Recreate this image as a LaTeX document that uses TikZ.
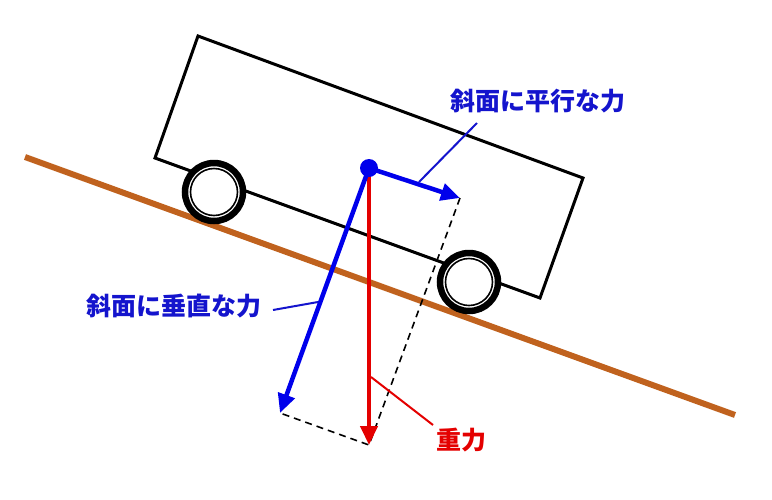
\documentclass[tikz,border=0pt]{standalone}
\usepackage{fontspec}
\newfontfamily\jpfont{Noto Sans CJK JP}
\usetikzlibrary{positioning}
\usetikzlibrary{arrows.meta}
\usetikzlibrary{calc}
\definecolor{slopebrown}{RGB}{192,98,30}
\definecolor{forceblue}{RGB}{0,0,235}
\definecolor{forcered}{RGB}{228,0,0}
\definecolor{labelblue}{RGB}{20,20,205}
\tikzset{
  force/.style={line width=4.5pt, -{Triangle[length=19pt,width=17pt]}},
  leader/.style={line width=2pt},
  forcelabel/.style={font=\jpfont\bfseries\fontsize{25}{30}\selectfont, inner sep=0pt},
  tyre/.style={draw=black, fill=white, line width=6.5pt}
}
\begin{document}
\begin{tikzpicture}[x=1pt,y=-1pt]
  \useasboundingbox (0,0) rectangle (772,499);
  % slope
  \coordinate (slopeL) at (25,157);
  \coordinate (slopeR) at (735,415);
  \draw[slopebrown, line width=6pt] (slopeL) -- (slopeR);
  % car body
  \coordinate (bodyTL) at (198,36);
  \coordinate (bodyBL) at (155,158);
  \coordinate (bodyBR) at (540,298);
  \coordinate (bodyTR) at (583,178);
  \draw[black, line width=3pt, line join=miter] (bodyTL) -- (bodyBL) -- (bodyBR) -- (bodyTR) -- cycle;
  % wheels
  \coordinate (wheelL) at (214,192);
  \coordinate (wheelR) at (469,282);
  \foreach \w in {wheelL, wheelR}{
    \draw[tyre] (\w) circle (29);
    \draw[black, line width=1.6pt] (\w) circle (23.5);
  }
  % centre of gravity and force tips
  \coordinate (cg) at (369,168);
  \coordinate (partip) at (460,198);
  \coordinate (perptip) at (280,413);
  \coordinate (gravtip) at (369,445);
  % parallelogram
  \draw[black, line width=1.6pt, dash pattern=on 7pt off 5pt] (partip) -- (gravtip) -- (perptip);
  % forces
  \draw[forcered, force] (cg) -- (gravtip);
  \draw[forceblue, force] (cg) -- (perptip);
  \draw[forceblue, force] (cg) -- (partip);
  \fill[forceblue] (cg) circle (9);
  % labels
  \node[forcelabel, text=labelblue] (parlabel) at (538,101) {斜面に平行な力};
  \node[forcelabel, text=labelblue] (perplabel) at (174,306) {斜面に垂直な力};
  \node[forcelabel, text=forcered] (gravlabel) at (461,440) {重力};
  \coordinate (parfoot) at (419,182);
  \coordinate (parhead) at (477,123);
  \coordinate (perpfoot) at (318,302);
  \coordinate (perphead) at (273,310);
  \coordinate (gravfoot) at (371,377);
  \coordinate (gravhead) at (433,425);
  \draw[labelblue, leader] (parfoot) -- (parhead);
  \draw[labelblue, leader] (perpfoot) -- (perphead);
  \draw[forcered, leader] (gravfoot) -- (gravhead);
\end{tikzpicture}
\end{document}
